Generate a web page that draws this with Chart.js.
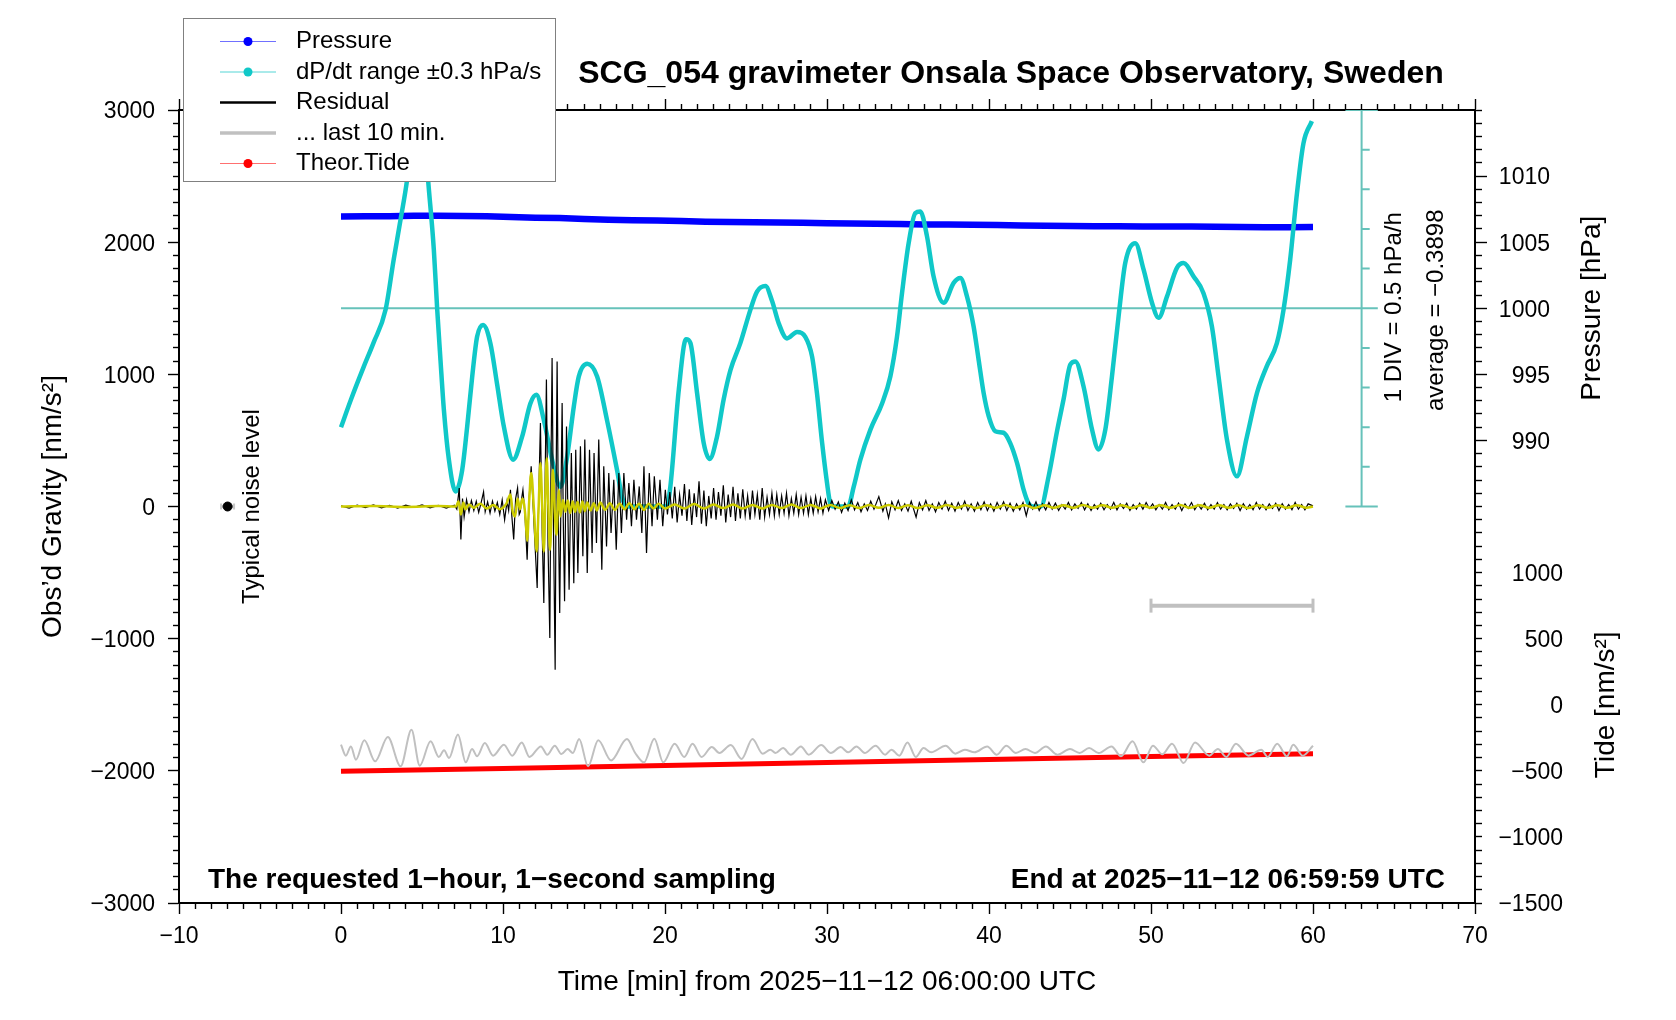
<!DOCTYPE html>
<html>
<head>
<meta charset="utf-8">
<script src="https://cdn.jsdelivr.net/npm/chart.js@4.4.1/dist/chart.umd.min.js"></script>
<style>
  html, body { margin: 0; padding: 0; background: #fff; }
</style>
</head>
<body>
<canvas id="grav" width="1676" height="1020"></canvas>
<script>
const FONT = '"Liberation Sans", Arial, Helvetica, sans-serif';
const MINUS = "\u2212";

/* ===== AXIS RANGES ===== */
const timeRange = [-10, 70];          // min
const gravRange = [-3000, 3000];      // nm/s^2
const pressureRange = [955, 1015];    // hPa
const tideRange = [-1500, 4500];      // nm/s^2
const dpdtRange = [-7.5, 2.5];        // hPa/h (10 DIV bar spans -2.5 .. 2.5)

/* ===== DATA ===== */
const pressureHpa = [
  [0,1006.95],[1.5,1006.97],[3,1006.96],[4.5,1006.99],[6,1007.0],[7.5,1006.98],[9,1006.96],
  [10.5,1006.9],[12,1006.85],[13.5,1006.82],[15,1006.76],[16.5,1006.7],[18,1006.66],[19.5,1006.63],
  [21,1006.6],[22.5,1006.55],[24,1006.52],[25.5,1006.5],[27,1006.48],[28.5,1006.46],[30,1006.43],
  [31.5,1006.41],[33,1006.4],[34.5,1006.37],[36,1006.34],[37.5,1006.33],[39,1006.31],[40.5,1006.29],
  [42,1006.26],[43.5,1006.25],[45,1006.22],[46.5,1006.2],[48,1006.2],[49.5,1006.19],[51,1006.18],
  [52.5,1006.18],[54,1006.16],[55.5,1006.14],[57,1006.12],[58.5,1006.12],[60,1006.14]
];

const dpdtHpaH = [
  [0,-1.5],[0.6,-1.16],[1.4,-0.74],[2.0,-0.44],[2.75,-0.02],[3.25,0.61],[3.67,1.11],[4.08,1.62],
  [4.4,2.2],[4.7,2.5],[5.0,2.5],[5.2,2.08],[5.38,1.61],[5.73,0.74],[5.94,-0.02],[6.14,-0.65],
  [6.35,-1.28],[6.66,-1.91],[7.07,-2.31],[7.48,-2.04],[7.79,-1.49],[8.1,-0.86],[8.4,-0.36],
  [8.77,-0.21],[9.22,-0.44],[9.63,-0.95],[10.05,-1.49],[10.62,-1.91],[11.18,-1.62],[11.69,-1.2],
  [12.06,-1.09],[12.52,-1.41],[13.03,-1.91],[13.55,-2.25],[13.96,-1.87],[14.37,-1.24],[14.68,-0.86],
  [15.2,-0.7],[15.81,-0.86],[16.43,-1.42],[17.04,-2.04],[17.35,-2.38],[17.6,-2.5],[20.1,-2.5],
  [20.33,-2.25],[20.85,-1.03],[21.3,-0.39],[21.57,-0.44],[21.98,-1.07],[22.39,-1.7],[22.76,-1.9],
  [23.21,-1.62],[23.62,-1.15],[24.04,-0.78],[24.65,-0.44],[25.27,-0.02],[25.68,0.21],[26.2,0.28],
  [26.61,0.09],[27.02,-0.19],[27.53,-0.38],[28.15,-0.3],[28.66,-0.36],[29.08,-0.61],[29.38,-1.07],
  [29.7,-1.7],[30.0,-2.2],[30.2,-2.46],[30.4,-2.5],[31.3,-2.5],[31.65,-2.25],[32.06,-1.91],
  [32.68,-1.53],[33.4,-1.2],[33.91,-0.86],[34.32,-0.36],[34.63,0.19],[35.04,0.82],[35.45,1.2],
  [35.76,1.22],[36.17,0.91],[36.58,0.4],[37.2,0.07],[37.82,0.32],[38.23,0.38],[38.64,0.15],
  [39.05,-0.23],[39.36,-0.65],[39.67,-1.07],[39.98,-1.36],[40.39,-1.55],[40.9,-1.57],[41.31,-1.7],
  [41.73,-1.95],[42.14,-2.29],[42.44,-2.46],[42.7,-2.5],[43.2,-2.5],[43.68,-2.12],[44.2,-1.55],
  [44.6,-1.15],[45.02,-0.71],[45.33,-0.67],[45.84,-0.99],[46.36,-1.53],[46.76,-1.78],[47.18,-1.53],
  [47.59,-0.86],[48.0,-0.1],[48.41,0.57],[49.03,0.82],[49.54,0.49],[50.06,0.07],[50.47,-0.12],
  [50.99,0.15],[51.6,0.51],[52.01,0.57],[52.63,0.4],[53.24,0.19],[53.76,-0.23],[54.17,-0.86],
  [54.69,-1.66],[55.3,-2.12],[55.92,-1.62],[56.54,-1.07],[57.15,-0.73],[57.77,-0.44],[58.18,-0.02],
  [58.59,0.61],[59.01,1.45],[59.41,2.08],[59.93,2.36]
];

const residualNm = [
  [0,5],[0.5,-12],[1,10],[1.5,-8],[2,12],[2.5,-10],[3,8],[3.5,-12],[4,10],[4.5,-6],[5,12],[5.5,-10],
  [6,8],[6.5,-12],[7,10],[7.15,-20],[7.3,140],[7.4,-250],[7.5,60],[7.6,-80],[7.75,50],[7.9,-40],
  [8.05,45],[8.2,-30],[8.35,40],[8.5,-45],[8.65,30],[8.8,110],[8.9,-40],[9.05,35],[9.2,-50],[9.35,40],
  [9.5,-35],[9.65,30],[9.8,-60],[9.95,50],[10.1,-100],[10.25,40],[10.35,-30],[10.46,126],[10.55,-80],
  [10.66,-250],[10.78,60],[10.9,140],[11.0,-60],[11.07,-40],[11.15,60],[11.23,126],[11.35,-50],
  [11.49,-402],[11.62,80],[11.74,304],[11.92,-150],[12.11,-616],[12.21,100],[12.31,632],[12.42,-200],
  [12.52,-730],[12.6,200],[12.68,960],[12.78,-300],[12.89,-995],[12.96,300],[13.03,1124],[13.12,-200],
  [13.22,-1235],[13.28,200],[13.34,1098],[13.42,-100],[13.5,-805],[13.58,100],[13.65,783],[13.72,-100],
  [13.8,-717],[13.92,606],[14.08,-630],[14.22,405],[14.37,-580],[14.49,430],[14.62,-503],[14.78,455],
  [14.93,-377],[15.05,506],[15.2,-503],[15.34,430],[15.5,-352],[15.62,405],[15.77,-276],[15.91,506],
  [16.1,-478],[16.22,304],[16.39,-302],[16.53,253],[16.67,-200],[16.84,203],[16.99,-327],[17.15,253],
  [17.31,-200],[17.46,253],[17.63,-100],[17.77,177],[17.93,-150],[18.08,203],[18.24,-100],[18.41,152],
  [18.57,-200],[18.7,304],[18.86,-352],[19.03,253],[19.2,-150],[19.34,228],[19.53,-100],[19.69,203],
  [19.86,-150],[20.02,127],[20.15,-60],[20.3,110],[20.45,-90],[20.6,150],[20.75,-120],[20.9,90],
  [21.05,-70],[21.2,170],[21.35,-110],[21.5,130],[21.65,-140],[21.8,100],[21.95,-80],[22.1,190],
  [22.25,-130],[22.4,120],[22.55,-150],[22.7,80],[22.85,-90],[23.0,140],[23.15,-100],[23.3,110],
  [23.45,-70],[23.6,160],[23.75,-120],[23.9,90],[24.05,-80],[24.2,150],[24.35,-110],[24.5,100],
  [24.65,-90],[24.8,130],[24.95,-70],[25.1,80],[25.25,-100],[25.4,120],[25.55,-60],[25.7,90],
  [25.85,-100],[26.0,140],[26.15,-80],[26.3,70],[26.45,-60],[26.6,100],[26.75,-70],[26.9,90],
  [27.05,-60],[27.2,80],[27.35,-50],[27.5,100],[27.65,-70],[27.8,60],[27.95,-50],[28.1,90],
  [28.25,-60],[28.4,70],[28.55,-50],[28.7,80],[28.85,-60],[29.0,60],[29.15,-50],[29.3,75],
  [29.45,-40],[29.6,60],[29.75,-50],[29.9,50],[30.1,-30],[30.3,45],[30.5,-20],[30.7,35],
  [30.9,-45],[31.1,25],[31.3,-30],[31.5,50],[31.7,-25],[31.9,30],[32.1,-40],[32.3,20],
  [32.5,-30],[32.7,40],[32.9,-20],[33.2,75],[33.45,-35],[33.6,20],[33.8,-87],[34.0,35],
  [34.2,-25],[34.4,45],[34.6,-30],[34.8,20],[35.0,-35],[35.2,40],[35.5,-80],[35.7,30],
  [35.9,-25],[36.1,45],[36.3,-30],[36.5,20],[36.7,-40],[36.9,30],[37.1,-20],[37.3,40],
  [37.5,-30],[37.7,25],[37.9,-35],[38.1,30],[38.3,-20],[38.5,40],[38.7,-30],[38.9,20],
  [39.1,-35],[39.3,30],[39.5,-25],[39.7,35],[39.9,-30],[40.1,20],[40.3,-35],[40.5,30],
  [40.7,-20],[40.9,35],[41.1,-30],[41.3,25],[41.5,-35],[41.7,20],[41.9,-25],[42.1,30],
  [42.3,-70],[42.5,30],[42.7,-20],[42.9,35],[43.1,-30],[43.3,20],[43.5,-25],[43.7,30],
  [43.9,-20],[44.1,25],[44.3,-30],[44.5,15],[44.7,-20],[44.9,30],[45.1,-25],[45.3,20],
  [45.5,-15],[45.7,30],[45.9,-25],[46.1,20],[46.3,-30],[46.5,15],[46.7,-20],[46.9,25],
  [47.1,-25],[47.3,15],[47.5,-20],[47.7,30],[47.9,-25],[48.1,20],[48.3,-15],[48.5,25],
  [48.7,-30],[48.9,15],[49.1,-20],[49.3,25],[49.5,-20],[49.7,30],[49.9,-15],[50.1,20],
  [50.3,-25],[50.5,15],[50.7,-20],[50.9,30],[51.1,-25],[51.3,15],[51.5,-20],[51.7,25],
  [51.9,-30],[52.1,20],[52.3,-15],[52.5,30],[52.7,-25],[52.9,15],[53.1,-20],[53.3,25],
  [53.5,-25],[53.7,15],[53.9,-20],[54.1,30],[54.3,-20],[54.5,15],[54.7,-25],[54.9,20],
  [55.1,-15],[55.3,25],[55.5,-30],[55.7,20],[55.9,-20],[56.1,15],[56.3,-25],[56.5,30],
  [56.7,-20],[56.9,15],[57.1,-25],[57.3,20],[57.5,-15],[57.7,25],[57.9,-30],[58.1,20],
  [58.3,-20],[58.5,15],[58.7,-25],[58.9,30],[59.1,-20],[59.3,15],[59.5,-25],[59.7,20],[60,5]
];

const filteredNm = [
  [0,0],[2,4],[4,-3],[6,3],[7.1,0],[7.25,40],[7.4,-60],[7.55,30],[7.7,-20],[7.9,15],[8.2,-10],
  [8.6,20],[9.0,-15],[9.4,12],[9.8,-20],[10.2,20],[10.46,90],[10.6,-40],[10.75,-75],[10.9,60],
  [11.05,-20],[11.2,60],[11.3,20],[11.4,-100],[11.49,-260],[11.62,50],[11.74,253],[11.9,0],
  [12.08,-340],[12.2,0],[12.31,328],[12.42,0],[12.52,-340],[12.6,0],[12.7,366],[12.8,0],[12.9,-328],
  [13.0,0],[13.08,278],[13.18,0],[13.3,-214],[13.38,0],[13.45,126],[13.55,-75],[13.7,50],[13.85,-40],
  [14.0,45],[14.15,-50],[14.3,40],[14.45,-40],[14.6,35],[14.75,-45],[14.9,40],[15.05,-35],[15.2,30],
  [15.4,-30],[15.6,25],[15.8,-30],[16.0,30],[16.3,-25],[16.6,25],[16.9,-25],[17.2,20],[17.5,-20],
  [17.8,25],[18.1,-20],[18.4,20],[18.7,-25],[19.0,20],[19.3,-15],[19.6,20],[20.0,-15],[20.6,15],
  [21.2,-15],[21.8,18],[22.4,-15],[23.0,15],[23.6,-12],[24.2,15],[24.8,-15],[25.4,12],[26.0,-15],
  [26.6,12],[27.2,-12],[27.8,15],[28.4,-12],[29.0,12],[29.6,-15],[30.2,12],[30.8,-12],[31.4,10],
  [32.0,-12],[32.6,12],[33.2,-10],[33.8,12],[34.4,-12],[35.0,10],[35.6,-12],[36.2,10],[36.8,-10],
  [37.4,12],[38.0,-10],[38.6,10],[39.2,-12],[39.8,10],[40.4,-10],[41.0,12],[41.6,-10],[42.2,10],
  [42.8,-12],[43.4,10],[44.0,-10],[44.6,10],[45.2,-10],[45.8,12],[46.4,-10],[47.0,10],[47.6,-10],
  [48.2,10],[48.8,-12],[49.4,10],[50.0,-10],[50.6,10],[51.2,-10],[51.8,12],[52.4,-10],[53.0,10],
  [53.6,-10],[54.2,10],[54.8,-10],[55.4,10],[56.0,-12],[56.6,10],[57.2,-10],[57.8,10],[58.4,-10],
  [59.0,10],[59.6,-10],[60,0]
];

const lastTenNm = [
  [0,-1802],[0.3,-1885],[0.61,-1815],[0.92,-1916],[1.44,-1769],[2.11,-1928],[2.89,-1744],[3.68,-1966],
  [4.35,-1689],[4.86,-1961],[5.53,-1777],[6.04,-1895],[6.36,-1845],[6.67,-1903],[7.22,-1726],[7.7,-1936],
  [8.09,-1835],[8.4,-1890],[8.88,-1790],[9.39,-1885],[10.06,-1802],[10.57,-1885],[11.16,-1785],
  [11.63,-1895],[12.34,-1815],[12.73,-1878],[13.2,-1810],[13.6,-1873],[13.99,-1835],[14.31,-1865],
  [14.7,-1759],[15.25,-1966],[15.88,-1769],[16.67,-1921],[17.65,-1759],[18.16,-1865],[18.71,-1936],
  [19.34,-1757],[19.89,-1936],[20.6,-1795],[21.19,-1895],[21.7,-1795],[22.26,-1895],[22.89,-1820],
  [23.36,-1865],[24.06,-1805],[24.73,-1910],[25.4,-1759],[26.03,-1870],[26.5,-1840],[26.82,-1865],
  [27.29,-1827],[27.76,-1878],[28.39,-1815],[28.87,-1878],[29.65,-1805],[30.24,-1865],[30.84,-1820],
  [31.31,-1860],[31.82,-1815],[32.33,-1865],[33.0,-1810],[33.59,-1878],[33.98,-1840],[34.46,-1885],
  [34.97,-1785],[35.48,-1895],[35.96,-1827],[36.43,-1860],[37.33,-1810],[37.92,-1870],[38.51,-1840],
  [39.1,-1860],[39.89,-1815],[40.48,-1878],[41.07,-1810],[41.66,-1865],[42.25,-1835],[42.84,-1865],
  [43.51,-1815],[44.22,-1878],[45.0,-1835],[45.59,-1865],[46.18,-1827],[46.77,-1865],[47.56,-1815],
  [48.15,-1890],[48.86,-1777],[49.53,-1936],[50.12,-1810],[50.7,-1875],[51.3,-1795],[52.01,-1941],
  [52.72,-1785],[53.59,-1885],[54.13,-1835],[54.65,-1895],[55.24,-1795],[56.02,-1885],[56.81,-1840],
  [57.2,-1895],[57.79,-1795],[58.39,-1890],[58.78,-1802],[59.37,-1885],[60,-1810]
];

const tideNm = [[0,-504],[10,-482],[20,-460],[30,-437],[40,-415],[50,-392],[60,-370]];

const divBarTime = 63;                  // min, where the dP/dt scale bar stands
const divLevels = [-2.5,-2,-1.5,-1,-0.5,0,0.5,1,1.5,2,2.5];   // hPa/h, 1 DIV = 0.5
const lastTenBar = [50, 60];
const lastTenBarLevel = -750;
const noiseTime = -7;
const noiseSpan = [-7.4, -6.6];

/* ===== HELPERS ===== */
const toXY = pts => pts.map(p => ({ x: p[0], y: p[1] }));
const fmt = v => (v < 0 ? MINUS + Math.abs(v) : String(v));
// vertical-axis labels sit a couple of px lower than the canvas "middle" baseline
const lowered = txt => (txt === "" ? "" : ["", txt]);
const TEAL = "rgb(102,194,186)";

// scale bar for dP/dt, broken into segments with null gaps
const divBarPts = [{ x: divBarTime, y: divLevels[0] }, { x: divBarTime, y: divLevels[divLevels.length - 1] }, { x: divBarTime, y: null }];
divLevels.forEach(l => {
  const end = l === divLevels[0] || l === divLevels[divLevels.length - 1];
  divBarPts.push({ x: end ? divBarTime - 1 : divBarTime, y: l }, { x: end ? divBarTime + 1 : divBarTime + 0.5, y: l }, { x: divBarTime, y: null });
});
divBarPts.push({ x: 0, y: 0 }, { x: divBarTime + 1, y: 0 });

/* ===== TICK STYLE ===== */
// minor ticks are cut short with a dash pattern
const dashInner = (isMajor, len) => ctx => (ctx.tick && isMajor(ctx.tick.value) ? [] : [len, 60]);
const dashOuter = isMajor => ctx => (ctx.tick && isMajor(ctx.tick.value) ? [] : [6, 5]);
const offOuter = isMajor => ctx => (ctx.tick && isMajor(ctx.tick.value) ? 0 : 6);
const isTen = v => v % 10 === 0;
const isThousand = v => v % 1000 === 0;
const isPMajor = v => v >= 990 && v <= 1010 && v % 5 === 0;

const tickFont = { family: FONT, size: 23 };
const vTickFont = { family: FONT, size: 23, lineHeight: "4px" };
const frame = { color: "#000", width: 2 };

/* ===== OVERLAY: titles, notes, legend ===== */
const legendRows = [
  { label: "Pressure", line: "#7070ff", lw: 1, dot: "#0000ff" },
  { label: "dP/dt range \u00b10.3 hPa/s", line: "#55d5d5", lw: 1, dot: "#10c8c8" },
  { label: "Residual", line: "#000", lw: 2.5 },
  { label: "... last 10 min.", line: "#c0c0c0", lw: 3.5 },
  { label: "Theor.Tide", line: "#ff7070", lw: 1, dot: "#ff0000" }
];

function vtext(c, txt, x, y, font) {
  c.save();
  c.translate(x, y);
  c.rotate(-Math.PI / 2);
  c.font = font;
  c.textAlign = "center";
  c.textBaseline = "middle";
  c.fillText(txt, 0, 0);
  c.restore();
}

const overlay = {
  id: "overlay",
  afterDraw(chart) {
    const c = chart.ctx, a = chart.chartArea, s = chart.scales;
    c.save();
    c.fillStyle = "#000";
    c.textBaseline = "middle";

    c.font = "bold 32px " + FONT;
    c.textAlign = "center";
    c.fillText("SCG_054 gravimeter Onsala Space Observatory, Sweden", 1011, 74);

    c.font = "bold 28px " + FONT;
    c.textAlign = "left";
    c.fillText("The requested 1" + MINUS + "hour, 1" + MINUS + "second sampling", 208, 880);
    c.textAlign = "right";
    c.fillText("End at 2025" + MINUS + "11" + MINUS + "12 06:59:59 UTC", 1445, 880);

    c.font = "28px " + FONT;
    c.textAlign = "center";
    c.fillText("Time [min] from 2025" + MINUS + "11" + MINUS + "12 06:00:00 UTC", (a.left + a.right) / 2, 982);
    vtext(c, "Obs\u2019d Gravity [nm/s\u00b2]", 53, (a.top + a.bottom) / 2, "28px " + FONT);
    vtext(c, "Pressure [hPa]", 1592, s.yP.getPixelForValue(1000), "28px " + FONT);
    vtext(c, "Tide [nm/s\u00b2]", 1606, s.yT.getPixelForValue(0), "28px " + FONT);

    vtext(c, "1 DIV = 0.5 hPa/h", a.right - 81, s.yDp.getPixelForValue(0) - 1, "24px " + FONT);
    vtext(c, "average = " + MINUS + "0.3898", a.right - 39, s.yDp.getPixelForValue(0) + 2, "24px " + FONT);
    vtext(c, "Typical noise level", 252, s.y.getPixelForValue(0), "24px " + FONT);

    // legend box
    const bx = 183.5, by = 18.5, bw = 372, bh = 163;
    c.fillStyle = "#fff";
    c.fillRect(bx, by, bw, bh);
    c.strokeStyle = "#808080";
    c.lineWidth = 1;
    c.strokeRect(bx, by, bw, bh);
    c.font = "24px " + FONT;
    c.textAlign = "left";
    legendRows.forEach((r, i) => {
      const yy = 41.5 + i * 30.5;
      c.strokeStyle = r.line;
      c.lineWidth = r.lw;
      c.beginPath();
      c.moveTo(220, yy);
      c.lineTo(276, yy);
      c.stroke();
      if (r.dot) {
        c.fillStyle = r.dot;
        c.beginPath();
        c.arc(248, yy, 4.5, 0, Math.PI * 2);
        c.fill();
      }
      c.fillStyle = "#000";
      c.fillText(r.label, 296, yy);
    });
    c.restore();
  }
};

/* ===== CHART ===== */
new Chart(document.getElementById("grav"), {
  type: "line",
  data: {
    datasets: [
      { label: "DIV bar", data: divBarPts, xAxisID: "x", yAxisID: "yDp", borderColor: TEAL, borderWidth: 2,
        pointRadius: 0, spanGaps: false, order: 10 },
      { label: "Pressure", data: toXY(pressureHpa), xAxisID: "x", yAxisID: "yP", borderColor: "#0000ff",
        borderWidth: 6.5, pointRadius: 0, order: 9 },
      { label: "dP/dt", data: toXY(dpdtHpaH), xAxisID: "x", yAxisID: "yDp", borderColor: "#10c8c8",
        borderWidth: 4.5, pointRadius: 0, cubicInterpolationMode: "monotone", order: 8 },
      { label: "Residual", data: toXY(residualNm), xAxisID: "x", yAxisID: "y", borderColor: "#000",
        borderWidth: 1.2, pointRadius: 0, order: 7 },
      { label: "Filtered", data: toXY(filteredNm), xAxisID: "x", yAxisID: "y", borderColor: "#cccc00",
        borderWidth: 2.5, pointRadius: 0, cubicInterpolationMode: "monotone", order: 6 },
      { label: "Theor.Tide", data: toXY(tideNm), xAxisID: "x", yAxisID: "yT", borderColor: "#ff0000",
        borderWidth: 5, pointRadius: 0, order: 5 },
      { label: "... last 10 min.", data: toXY(lastTenNm), xAxisID: "x", yAxisID: "y", borderColor: "#c0c0c0",
        borderWidth: 2, pointRadius: 0, cubicInterpolationMode: "monotone", order: 4 },
      { label: "last 10 min bar", data: lastTenBar.map(t => ({ x: t, y: lastTenBarLevel })), xAxisID: "x", yAxisID: "y",
        borderColor: "#c0c0c0", borderWidth: 4, pointStyle: "line", rotation: 90, pointRadius: 7,
        pointBorderColor: "#c0c0c0", pointBorderWidth: 3, order: 3 },
      { label: "noise span", data: noiseSpan.map(t => ({ x: t, y: 0 })), xAxisID: "x", yAxisID: "y",
        borderColor: "#c8c8c8", borderWidth: 3, pointStyle: "line", rotation: 90, pointRadius: 3,
        pointBorderColor: "#c8c8c8", pointBorderWidth: 2, order: 2 },
      { label: "noise", data: [{ x: noiseTime, y: 0 }], xAxisID: "x", yAxisID: "y", showLine: false,
        pointRadius: 4.5, pointBackgroundColor: "#000", pointBorderColor: "#000", order: 1 }
    ]
  },
  options: {
    responsive: false,
    animation: false,
    devicePixelRatio: 1,
    events: [],
    layout: { padding: { top: 99, left: 0, right: 0, bottom: 0 } },
    plugins: { legend: { display: false }, tooltip: { enabled: false }, title: { display: false } },
    scales: {
      x: {
        type: "linear", position: "bottom", min: timeRange[0], max: timeRange[1],
        ticks: { stepSize: 1, autoSkip: false, maxRotation: 0, minRotation: 0, padding: 9, color: "#000",
          font: tickFont, callback: v => (isTen(v) ? fmt(v) : "") },
        grid: { drawOnChartArea: false, tickLength: 11, tickWidth: 1.4, tickColor: "#000",
          tickBorderDash: dashInner(isTen, 5) },
        border: frame,
        afterFit: sc => { sc.height = 117; }
      },
      x2: {
        type: "linear", position: "top", min: timeRange[0], max: timeRange[1],
        ticks: { stepSize: 1, autoSkip: false, maxRotation: 0, minRotation: 0, padding: 0, callback: () => "" },
        grid: { drawOnChartArea: false, tickLength: 11, tickWidth: 1.4, tickColor: "#000",
          tickBorderDash: dashOuter(isTen), tickBorderDashOffset: offOuter(isTen) },
        border: frame,
        afterFit: sc => { sc.height = 11; }
      },
      y: {
        type: "linear", position: "left", min: gravRange[0], max: gravRange[1],
        ticks: { stepSize: 100, autoSkip: false, padding: 13, color: "#000", font: vTickFont,
          callback: v => lowered(isThousand(v) ? fmt(v) : "") },
        grid: { drawOnChartArea: false, tickLength: 11, tickWidth: 1.4, tickColor: "#000",
          tickBorderDash: dashOuter(isThousand), tickBorderDashOffset: offOuter(isThousand) },
        border: frame,
        afterFit: sc => { sc.width = 179; }
      },
      // pressure and tide share the right frame; labels are placed with mirror + padding
      yP: {
        type: "linear", position: "right", weight: 0, min: pressureRange[0], max: pressureRange[1],
        ticks: { stepSize: 1, autoSkip: false, mirror: true, padding: 75, color: "#000", font: vTickFont,
          callback: v => lowered(isPMajor(v) ? String(v) : "") },
        grid: { drawOnChartArea: false, tickLength: 12, tickWidth: 1.4, tickColor: "#000",
          tickBorderDash: dashInner(isPMajor, 6) },
        border: frame,
        afterFit: sc => { sc.width = 0; }
      },
      yT: {
        type: "linear", position: "right", weight: 1, min: tideRange[0], max: tideRange[1],
        ticks: { stepSize: 500, autoSkip: false, mirror: true, padding: 88, color: "#000", font: vTickFont,
          callback: v => lowered(v <= 1000 ? fmt(v) : "") },
        grid: { display: false, drawTicks: false, drawOnChartArea: false },
        border: { display: false },
        afterFit: sc => { sc.width = 201; }
      },
      yDp: {
        type: "linear", display: false, position: "left", min: dpdtRange[0], max: dpdtRange[1]
      }
    }
  },
  plugins: [overlay]
});
</script>
</body>
</html>
